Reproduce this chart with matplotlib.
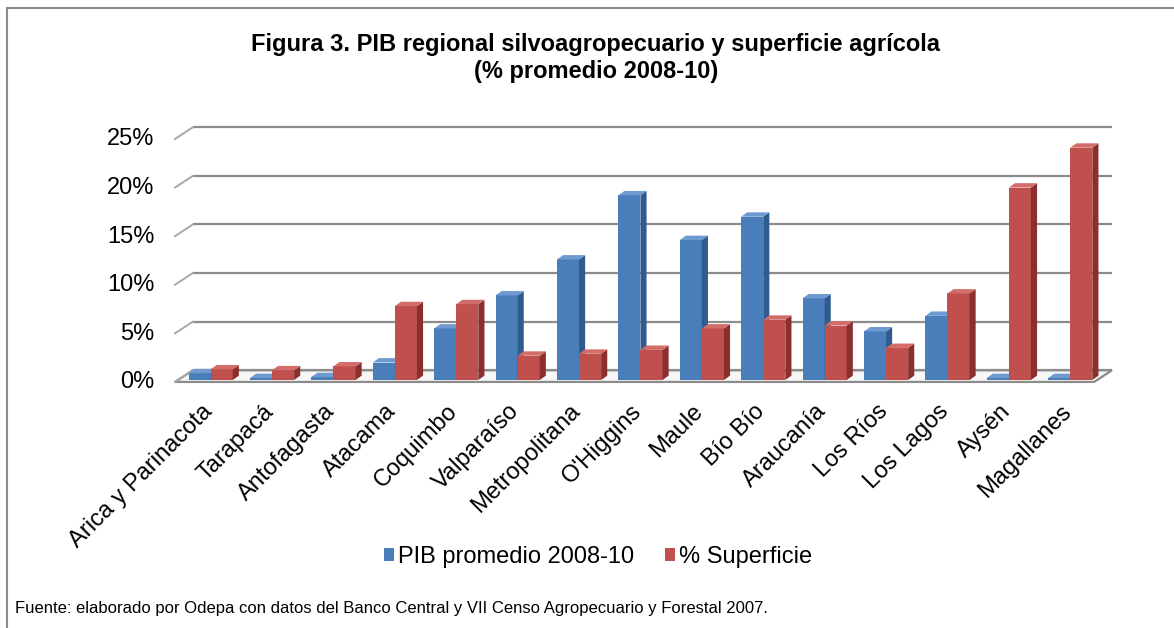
import matplotlib
matplotlib.use("Agg")
import matplotlib.pyplot as plt
from matplotlib.patches import Polygon
from matplotlib.lines import Line2D
from matplotlib.transforms import ScaledTranslation

plt.rcParams['font.family'] = ['Liberation Sans', 'DejaVu Sans']

regions = ['Arica y Parinacota', 'Tarapacá', 'Antofagasta', 'Atacama', 'Coquimbo',
           'Valparaíso', 'Metropolitana', "O'Higgins", 'Maule', 'Bío Bío',
           'Araucanía', 'Los Ríos', 'Los Lagos', 'Aysén', 'Magallanes']
pib = [0.7, 0.2, 0.3, 1.8, 5.3, 8.7, 12.4, 19.0, 14.4, 16.8, 8.4, 5.0, 6.6, 0.2, 0.2]
superficie = [1.1, 1.0, 1.4, 7.6, 7.8, 2.5, 2.7, 3.1, 5.3, 6.2, 5.6, 3.3, 8.9, 19.8, 23.9]
yticks = [0, 5, 10, 15, 20, 25]

W, H = 1174, 628
fig = plt.figure(figsize=(W / 100, H / 100), dpi=100)

# axes placed in pixel terms (front of the 3D box)
left, right, top, bottom = 175, 1120, 120, 392
ax = fig.add_axes([left / W, 1 - bottom / H, (right - left) / W, (bottom - top) / H])
px_per_cat = 61.4
px_per_pct = 9.72
ax.set_xlim((left - 210) / px_per_cat, (right - 210) / px_per_cat)
ax.set_ylim((380 - bottom) / px_per_pct, (380 - top) / px_per_pct)
for s in ax.spines.values():
    s.set_visible(False)

# depth offsets (walls and bars)
wdx, wdy = 0.29, 1.2
bdx, bdy = 0.10, 0.45
x0, x1 = -0.57, 14.40
front_y = -0.2
grid_col = '#8c8c8c'

# floor
floor = Polygon([(x0, front_y), (x1, front_y), (x1 + wdx, front_y + wdy), (x0 + wdx, front_y + wdy)],
                closed=True, facecolor='#f7f7f7', edgecolor=grid_col, lw=1.6, zorder=1, clip_on=False)
ax.add_patch(floor)

# back wall gridlines plus diagonal on side wall
for v in yticks:
    ax.plot([x0 + wdx, x1 + wdx], [v + front_y + wdy] * 2, color=grid_col, lw=1.6, zorder=1,
            solid_capstyle='butt', clip_on=False)
    ax.plot([x0, x0 + wdx], [v + front_y, v + front_y + wdy], color='#a8a8a8', lw=1.4, zorder=1,
            clip_on=False)

xs = list(range(len(regions)))
bw = 0.36


def bars3d(offset, vals, front, side, topc, z, label):
    cont = ax.bar([x + offset for x in xs], vals, width=bw, color=front, zorder=z, label=label,
                  linewidth=0)
    for r in cont:
        x, w, h = r.get_x(), r.get_width(), r.get_height()
        ax.add_patch(Polygon([(x + w, 0), (x + w + bdx, bdy), (x + w + bdx, h + bdy), (x + w, h)],
                             closed=True, facecolor=side, lw=0, zorder=z))
        ax.add_patch(Polygon([(x, h), (x + w, h), (x + w + bdx, h + bdy), (x + bdx, h + bdy)],
                             closed=True, facecolor=topc, lw=0, zorder=z))
    return cont


b1 = bars3d(-0.17, pib, '#4a7ebb', '#2f5b8f', '#6f9ad0', 3, 'PIB promedio 2008-10')
b2 = bars3d(0.19, superficie, '#c0504d', '#8a2f2d', '#d36d6a', 4, '% Superficie')

ax.set_yticks(yticks)
ax.set_yticklabels([f'{v}%' for v in yticks], fontsize=17)
ax.set_xticks(xs)
ax.set_xticklabels(regions, rotation=45, ha='right', rotation_mode='anchor', fontsize=17)
ax.tick_params(axis='y', length=0, pad=15)
ax.tick_params(axis='x', length=0, pad=6)
shift = ScaledTranslation(-9 / 100, 0, fig.dpi_scale_trans)
for lab in ax.get_xticklabels():
    lab.set_transform(lab.get_transform() + shift)

fig.text(596 / W, 1 - 58 / H, 'Figura 3. PIB regional silvoagropecuario y superficie agrícola\n(% promedio 2008-10)',
         ha='center', va='center', fontsize=17, fontweight='bold', linespacing=1.2)

fig.legend(handles=[b1, b2], loc='center', bbox_to_anchor=(598 / W, 1 - 557 / H), ncol=2,
           frameon=False, fontsize=17, handlelength=0.45, handleheight=0.45,
           handletextpad=0.15, columnspacing=1.3)

fig.text(15 / W, 1 - 608 / H,
         'Fuente: elaborado por Odepa con datos del Banco Central y VII Censo Agropecuario y Forestal 2007.',
         ha='left', va='center', fontsize=12)

# outer frame (top and left only are visible)
fig.add_artist(Line2D([7 / W, 1], [1 - 8 / H] * 2, color='#8a8a8a', lw=1.5))
fig.add_artist(Line2D([7 / W] * 2, [0, 1 - 8 / H], color='#8a8a8a', lw=1.5))

fig.savefig('out.png', dpi=100)
